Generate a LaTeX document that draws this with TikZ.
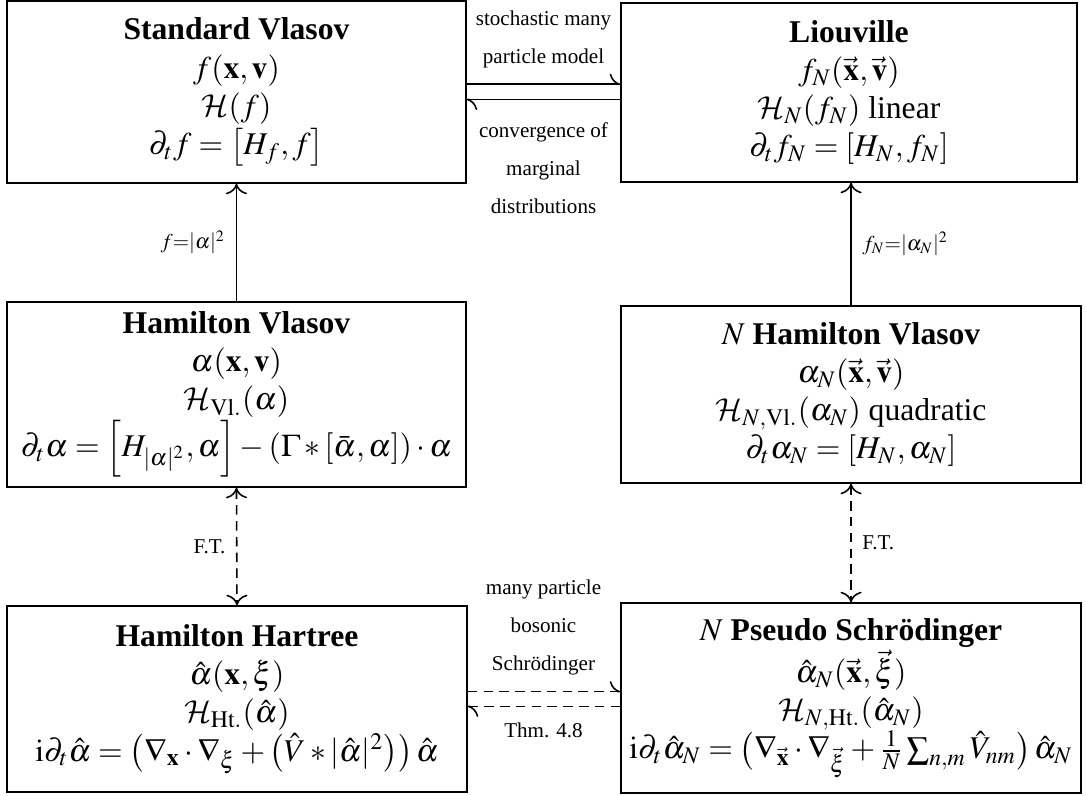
\documentclass[12pt,tikz,border=0pt]{standalone}
\usepackage{amsmath}
\usepackage{amssymb}
\usepackage{mathptmx}
\DeclareMathAlphabet{\mathcal}{OMS}{cmsy}{m}{n}
\usepackage[no-math]{fontspec}
\setmainfont{Liberation Serif}
\usetikzlibrary{arrows.meta}

\begin{document}
\begin{tikzpicture}[
  line width=0.6pt,
  box/.style={draw, align=center, inner xsep=0pt, inner ysep=2pt},
  lbl/.style={font=\scriptsize, align=center},
  opis/.style={font={\fontsize{8pt}{14.4pt}\selectfont}, align=center},
  dsh/.style={dash pattern=on 3.6pt off 2.4pt},
  >={Computer Modern Rightarrow[width=8pt, length=4pt]},
  harp/.style={-{Computer Modern Rightarrow[left, width=8pt, length=4pt]}},
]
\useasboundingbox (0,0) rectangle (14.48,-10.613);
% Vlasov (lewa kolumna)
\node[box, minimum width=6.12cm, minimum height=2.43cm] (sv) at (3.153,-1.225)
  {\textbf{Standard Vlasov}\\ $f(\mathbf{x},\mathbf{v})$\\ $\mathcal{H}(f)$\\
   $\partial_t f=\left[H_f,f\right]$};
\node[box, minimum width=6.12cm, minimum height=2.467cm] (hv) at (3.153,-5.26)
  {\textbf{Hamilton Vlasov}\\ $\alpha(\mathbf{x},\mathbf{v})$\\ $\mathcal{H}_{\mathrm{Vl.}}(\alpha)$\\
   $\partial_t\alpha=\left[H_{|\alpha|^2},\alpha\right]-(\Gamma*[\bar{\alpha},\alpha])\cdot\alpha$};
\node[box, minimum width=6.133cm, minimum height=2.48cm] (hh) at (3.16,-9.32)
  {\textbf{Hamilton Hartree}\\ $\hat{\alpha}(\mathbf{x},\xi)$\\ $\mathcal{H}_{\mathrm{Ht.}}(\hat{\alpha})$\\
   $\mathrm{i}\partial_t\hat{\alpha}=\left(\nabla_{\mathbf{x}}\cdot\nabla_{\xi}+\left(\hat{V}*|\hat{\alpha}|^2\right)\right)\hat{\alpha}$};
% N czastek (prawa kolumna)
\node[box, minimum width=6.08cm, minimum height=2.387cm] (liou) at (11.32,-1.233)
  {\textbf{Liouville}\\ $f_N(\vec{\mathbf{x}},\vec{\mathbf{v}})$\\ $\mathcal{H}_N(f_N)$ linear\\
   $\partial_t f_N=[H_N,f_N]$};
\node[box, minimum width=6.133cm, minimum height=2.36cm] (nhv) at (11.347,-5.26)
  {$N$ \textbf{Hamilton Vlasov}\\ $\alpha_N(\vec{\mathbf{x}},\vec{\mathbf{v}})$\\
   $\mathcal{H}_{N,\mathrm{Vl.}}(\alpha_N)$ quadratic\\ $\partial_t\alpha_N=[H_N,\alpha_N]$};
\node[box, minimum width=6.133cm, minimum height=2.533cm] (nps) at (11.347,-9.307)
  {$N$ \textbf{Pseudo Schrödinger}\\ $\hat{\alpha}_N(\vec{\mathbf{x}},\vec{\xi})$\\
   $\mathcal{H}_{N,\mathrm{Ht.}}(\hat{\alpha}_N)$\\
   $\mathrm{i}\partial_t\hat{\alpha}_N=\bigl(\nabla_{\vec{\mathbf{x}}}\cdot\nabla_{\vec{\xi}}+\frac{1}{N}\sum_{n,m}\hat{V}_{nm}\bigr)\,\hat{\alpha}_N$};
% strzalki pionowe
\draw[->] (hv.north) -- (sv.south) node[lbl, midway, left] (l1) {$f{=}|\alpha|^2$};
\draw[->] (nhv.north) -- (nhv.north |- liou.south) node[lbl, midway, right] (l2) {$f_N{=}|\alpha_N|^2$};
\draw[dsh, <->] (hv.south) -- (hh.north) node[lbl, midway, left] (l3) {F.T.};
\draw[dsh, <->] (nhv.south) -- (nhv.south |- nps.north) node[lbl, midway, right] (l4) {F.T.};
% strzalki poziome
\draw[harp] ([yshift=2.9pt]sv.east) -- ([yshift=2.9pt]sv.east -| liou.west);
\draw[harp] ([yshift=-2.9pt]sv.east -| liou.west) -- ([yshift=-2.9pt]sv.east);
\draw[harp, dsh] ([yshift=2.8pt]hh.east) -- ([yshift=2.8pt]hh.east -| nps.west);
\draw[harp, dsh] ([yshift=-2.8pt]hh.east -| nps.west) -- ([yshift=-2.8pt]hh.east);
\node[opis] (o1) at (7.247,-0.52) {stochastic many\\particle model};
\node[opis] (o2) at (7.247,-2.24) {convergence of\\marginal\\distributions};
\node[opis] (o3) at (7.247,-8.367) {many particle\\bosonic\\Schrödinger};
\node[opis] (o4) at (7.247,-9.733) {Thm. 4.8};
\end{tikzpicture}
\end{document}
